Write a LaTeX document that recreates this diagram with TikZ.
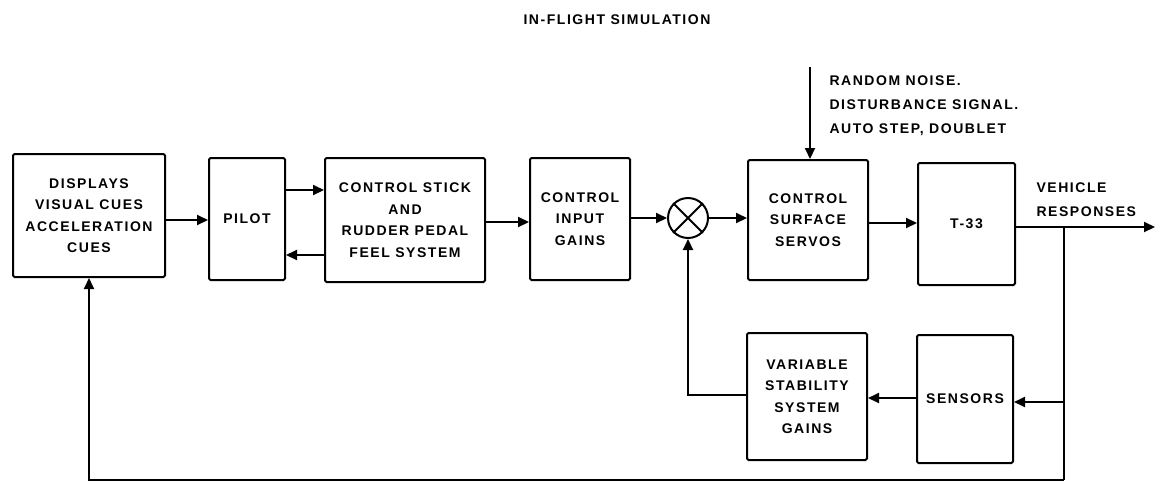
\documentclass[tikz,border=0pt]{standalone}
\usepackage{fontspec}
\setmainfont{Liberation Sans}[LetterSpace=11]
\usetikzlibrary{arrows.meta}
\begin{document}
\begin{tikzpicture}[x=1pt,y=-1pt,
  lbl/.style={font=\fontsize{14}{21.5}\selectfont\bfseries, align=center},
  blk/.style={draw, line width=2pt, rounded corners=1.5pt, inner sep=0pt, lbl},
  wire/.style={line width=2pt},
  arr/.style={wire, -{Triangle[length=11pt,width=10pt]}}]
\useasboundingbox (0,0) rectangle (1155,485);
% title
\node[lbl] (title) at (617,20) {IN-FLIGHT SIMULATION};
% blocks
\node[blk, minimum width=152pt, minimum height=123pt] (disp) at (89,215.5) {DISPLAYS\\VISUAL CUES\\ACCELERATION\\CUES};
\node[blk, minimum width=76pt, minimum height=122pt] (pilot) at (247,219) {PILOT};
\node[blk, minimum width=160pt, minimum height=124pt] (stick) at (405,220) {CONTROL STICK\\AND\\RUDDER PEDAL\\FEEL SYSTEM};
\node[blk, minimum width=100pt, minimum height=122pt] (gains) at (580,219) {CONTROL\\INPUT\\GAINS};
\node[draw, circle, line width=2pt, minimum size=40pt, inner sep=0pt] (sum) at (688,218) {};
\draw[wire] (sum.north east) -- (sum.south west) (sum.north west) -- (sum.south east);
\node[blk, minimum width=120pt, minimum height=120pt] (servos) at (808,220) {CONTROL\\SURFACE\\SERVOS};
\node[blk, minimum width=97pt, minimum height=122pt] (t33) at (966.5,224) {T-33};
\node[blk, minimum width=120pt, minimum height=127pt] (vss) at (807,396.5) {VARIABLE\\STABILITY\\SYSTEM\\GAINS};
\node[blk, minimum width=96pt, minimum height=128pt] (sens) at (965,399) {SENSORS};
% text labels
\node[lbl, align=left, anchor=west, font=\fontsize{14}{24}\selectfont\bfseries] (dtext) at (826,106) {RANDOM NOISE.\\DISTURBANCE SIGNAL.\\AUTO STEP, DOUBLET};
\node[lbl, align=left, anchor=west, font=\fontsize{14}{24}\selectfont\bfseries] (vtext) at (1033,199.5) {VEHICLE\\RESPONSES};
% helper coordinates
\coordinate (a) at (0,220);
\coordinate (b) at (0,190);
\coordinate (c) at (0,255);
\coordinate (d) at (0,222);
\coordinate (e) at (0,223);
\coordinate (f) at (0,227);
\coordinate (g) at (0,398);
\coordinate (h) at (0,402);
\coordinate (k) at (0,395);
\coordinate (br) at (1064,227);
\coordinate (bc) at (1064,480);
\coordinate (out) at (1155,227);
\coordinate (dist) at (810,67);
% connectors
\draw[arr] (disp.east |- a) -- (pilot.west |- a);
\draw[arr] (pilot.east |- b) -- (stick.west |- b);
\draw[arr] (stick.west |- c) -- (pilot.east |- c);
\draw[arr] (stick.east |- d) -- (gains.west |- d);
\draw[arr] (gains.east |- sum) -- (sum.west);
\draw[arr] (sum.east) -- (servos.west |- sum);
\draw[arr] (servos.east |- e) -- (t33.west |- e);
\draw[arr] (t33.east |- f) -- (out);
\draw[arr] (dist) -- (dist |- servos.north);
\draw[wire] (br) -- (bc);
\draw[arr] (br |- h) -- (sens.east |- h);
\draw[arr] (sens.west |- g) -- (vss.east |- g);
\draw[arr] (vss.west |- k) -| (sum.south);
\draw[arr] (bc) -| (disp.south);
\end{tikzpicture}
\end{document}
